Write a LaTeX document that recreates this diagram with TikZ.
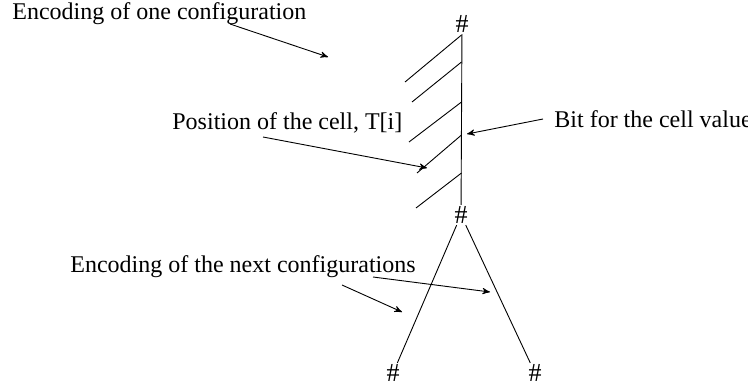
\documentclass[tikz,border=0pt]{standalone}
\usepackage{fontspec}
\setmainfont{Liberation Serif}
\usetikzlibrary{arrows}
\tikzset{
  remark/.style = {anchor=base west, inner sep=0pt, font=\fontsize{12}{14}\selectfont},
  hash/.style   = {inner sep=0.6pt, font=\fontsize{13}{15}\selectfont},
  wire/.style   = {line width=0.45pt},
  pointer/.style = {->, >=stealth', line width=0.45pt}
}

\begin{document}
\begin{tikzpicture}[x=0.5pt, y=-0.5pt]
  \useasboundingbox (0,0) rectangle (748,390);
  % separators
  \node[hash] (hashtop)   at (462,24)  {\#};
  \node[hash] (hashmid)   at (461,215) {\#};
  \node[hash] (hashleft)  at (393,373) {\#};
  \node[hash] (hashright) at (535,373) {\#};
  % texts
  \node[remark] (oneconf)  at (12,20)   {Encoding of one configuration};
  \node[remark] (position) at (172,129) {Position of the cell, T[i]};
  \node[remark] (bit)      at (554,127) {Bit for the cell value};
  \node[remark] (nextconf) at (70,272)  {Encoding of the next configurations};
  % the configuration and its cells
  \draw[wire] (hashtop) -- (hashmid);
  \foreach \x/\y/\t in {405/82/35, 412/102/62, 409/142/102, 417/173/135, 416/208/173}
    \draw[wire] (\x,\y) -- (461.5,\t);
  % next configurations
  \draw[wire] (hashmid) -- (hashleft);
  \draw[wire] (hashmid) -- (hashright);
  % pointers
  \coordinate (p1) at (230,24);  \coordinate (q1) at (328,57);
  \coordinate (p2) at (263,137); \coordinate (q2) at (427,168);
  \coordinate (p3) at (543,119); \coordinate (q3) at (467,134);
  \coordinate (p4) at (342,285); \coordinate (q4) at (402,312);
  \coordinate (p5) at (373,277); \coordinate (q5) at (490,292);
  \draw[pointer] (p1) -- (q1);
  \draw[pointer] (p2) -- (q2);
  \draw[pointer] (p3) -- (q3);
  \draw[pointer] (p4) -- (q4);
  \draw[pointer] (p5) -- (q5);
\end{tikzpicture}
\end{document}
